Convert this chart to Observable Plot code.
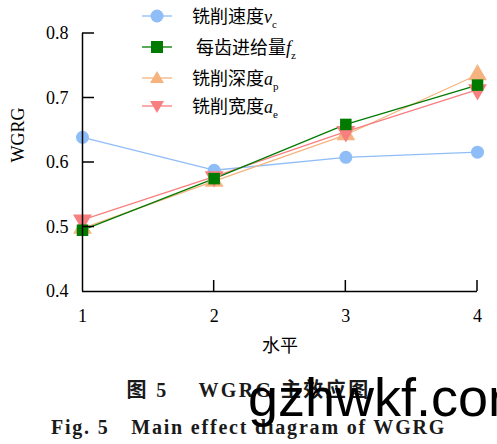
<!DOCTYPE html>
<html>
<head>
<meta charset="utf-8">
<script src="https://cdn.jsdelivr.net/npm/d3@7"></script>
<script src="https://cdn.jsdelivr.net/npm/@observablehq/plot@0.6"></script>
<style>
  body { margin: 0; background: #fff; }
  #wrap { position: relative; width: 497px; height: 444px; overflow: hidden; font-family: "Liberation Serif", "Noto Sans CJK SC", serif; }
  #legend { position: absolute; left: 140px; top: 0; }
  .item { position: absolute; left: 0; height: 24px; display: flex; align-items: center; white-space: nowrap; font-size: 18px; color: #000; }
  .item svg { display: block; }
  .cap { position: absolute; left: 0; width: 497px; text-align: center; font-weight: bold; color: #1a1a1a; font-size: 20px; }
  #wm { position: absolute; left: 248px; top: 366px; line-height: normal; font-family: "Liberation Sans", Arial, sans-serif; font-size: 54px; color: #000; white-space: nowrap; }
</style>
</head>
<body>
<div id="wrap">
  <div id="chart"></div>
  <div id="legend"></div>
  <div class="cap" style="top:374px;letter-spacing:2.4px;">图 5　 WGRG 主效应图</div>
  <div class="cap" style="top:411px;letter-spacing:1.8px;">Fig. 5　Main effect diagram of WGRG</div>
  <div id="wm">gzhwkf.com</div>
</div>
<script>
const levels = [1, 2, 3, 4];
const yTicks = [0.4, 0.5, 0.6, 0.7, 0.8];
const vc = [0.639, 0.588, 0.608, 0.616];
const fz = [0.495, 0.575, 0.659, 0.720];
const ap = [0.498, 0.571, 0.643, 0.736];
const ae = [0.511, 0.578, 0.648, 0.713];

const seriesNames = ["vc", "ap", "ae", "fz"];
const seriesValues = {vc, ap, ae, fz};
const colors = {vc: "#8fbdf7", fz: "#007b00", ap: "#f5b47f", ae: "#f77f80"};
const symbols = {vc: "circle", fz: "square", ap: "triangle", ae: "triangle"};
const rotates = {vc: 0, fz: 0, ap: 0, ae: 180};
const radii = {vc: 6.5, fz: 6.5, ap: 7, ae: 7};

const marks = [];
for (const s of seriesNames) {
  const data = levels.map((x, i) => ({x, y: seriesValues[s][i]}));
  marks.push(Plot.line(data, {x: "x", y: "y", stroke: colors[s], strokeWidth: 1.3}));
}
for (const s of seriesNames) {
  const data = levels.map((x, i) => ({x, y: seriesValues[s][i]}));
  marks.push(Plot.dot(data, {x: "x", y: "y", fill: colors[s], stroke: "none", symbol: symbols[s], r: radii[s], rotate: rotates[s]}));
}

const plot = Plot.plot({
  width: 497,
  height: 360,
  marginLeft: 82,
  marginRight: 20,
  marginTop: 33,
  marginBottom: 69,
  style: {fontFamily: "'Liberation Serif', 'Noto Sans CJK SC', serif", fontSize: "18px", color: "#000", background: "#fff", overflow: "visible"},
  x: {domain: [1, 4]},
  y: {domain: [0.4, 0.8]},
  marks: [
    Plot.axisX({ticks: levels, tickSize: 0, tickPadding: 18, tickFormat: d3.format("d"), label: null, fontSize: 18}),
    Plot.axisY({ticks: yTicks, tickSize: 0, tickPadding: 14, tickFormat: d3.format(".1f"), label: null, fontSize: 18}),
    Plot.text(["水平"], {frameAnchor: "bottom", dy: 60, fontSize: 18, text: d => d}),
    Plot.text(["WGRG"], {frameAnchor: "left", dx: -64, rotate: -90, fontSize: 18, text: d => d}),
    ...marks,
    Plot.ruleX([1], {stroke: "#000", strokeWidth: 1.5}),
    Plot.ruleY([0.4], {stroke: "#000", strokeWidth: 1.5}),
  ]
});
document.getElementById("chart").appendChild(plot);

// inward ticks positioned through the plot's scales
const svg = d3.select(plot);
const xs = plot.scale("x"), ys = plot.scale("y");
const g = svg.append("g").attr("stroke", "#000").attr("stroke-width", 1.5);
for (const t of yTicks.slice(1)) {
  g.append("line").attr("x1", xs.apply(1)).attr("x2", xs.apply(1) + 12).attr("y1", ys.apply(t)).attr("y2", ys.apply(t));
}
for (const t of levels.slice(1)) {
  g.append("line").attr("x1", xs.apply(t)).attr("x2", xs.apply(t)).attr("y1", ys.apply(0.4)).attr("y2", ys.apply(0.4) - 11);
}

// legend
const legendItems = [
  {s: "vc", name: "铣削速度", v: "v", sub: "c", top: 4, indent: 0},
  {s: "fz", name: "每齿进给量", v: "f", sub: "z", top: 35, indent: 4},
  {s: "ap", name: "铣削深度", v: "a", sub: "p", top: 66, indent: 0},
  {s: "ae", name: "铣削宽度", v: "a", sub: "e", top: 94, indent: 0},
];
const leg = document.getElementById("legend");
for (const it of legendItems) {
  const div = document.createElement("div");
  div.className = "item";
  div.style.top = it.top + "px";
  const w = 34, h = 24, cx = 17, cy = 12;
  let marker;
  const c = colors[it.s];
  if (it.s === "vc") marker = `<circle cx="${cx}" cy="${cy}" r="6.5" fill="${c}"/>`;
  else if (it.s === "fz") marker = `<rect x="${cx-6}" y="${cy-6}" width="12" height="12" fill="${c}"/>`;
  else if (it.s === "ap") marker = `<path d="M${cx},${cy-7}L${cx+7},${cy+5}L${cx-7},${cy+5}Z" fill="${c}"/>`;
  else marker = `<path d="M${cx},${cy+7}L${cx+7},${cy-5}L${cx-7},${cy-5}Z" fill="${c}"/>`;
  div.innerHTML = `<svg width="${w}" height="${h}"><line x1="2" x2="32" y1="${cy}" y2="${cy}" stroke="${c}" stroke-width="1.3"/>${marker}</svg>` +
    `<span style="margin-left:${18 + it.indent}px">${it.name}<i>${it.v}</i><sub style="font-size:11px">${it.sub}</sub></span>`;
  leg.appendChild(div);
}
</script>
</body>
</html>
